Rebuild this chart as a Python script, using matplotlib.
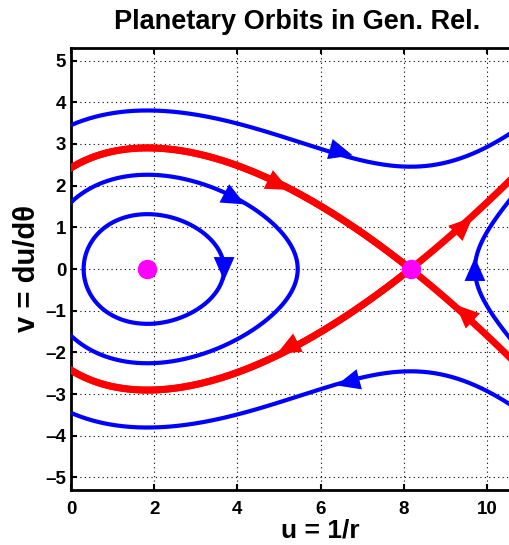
import numpy as np
import matplotlib.pyplot as plt

# u'' = -u + A + B u^2   (relativistic orbit equation, u = 1/r)
A = 1.5
B = 0.1

# starting points (u, v) of the open blue orbits
open_starts = [(0.0, 3.45), (0.0, -3.45), (9.71, 0.0)]
# starting points of the closed orbits around the centre
closed_starts = [(0.0, 1.6), (3.68, 0.0)]

# arrow positions along the blue orbits and along the separatrices
blue_arrows = [(6.5, 2.8), (6.65, -2.72), (3.94, 1.68), (3.68, 0.0), (9.71, 0.0)]
red_arrows = [(5.0, 2.02), (5.2, -1.9), (9.45, 1.05), (9.45, -1.05)]


def field(p):
    u, v = p
    return np.array([v, -u + A + B * u * u])


def step(p, h):
    k1 = field(p)
    k2 = field(p + 0.5 * h * k1)
    k3 = field(p + 0.5 * h * k2)
    k4 = field(p + h * k3)
    return p + h / 6 * (k1 + 2 * k2 + 2 * k3 + k4)


def integrate(p0, t_end, dt=0.005, box=(-2.0, 11.5, -6.0, 6.0)):
    pts = [np.array(p0, float)]
    p = pts[0].copy()
    h = dt if t_end > 0 else -dt
    for _ in range(int(abs(t_end) / dt)):
        p = step(p, h)
        pts.append(p.copy())
        if not (box[0] < p[0] < box[1] and box[2] < p[1] < box[3]):
            break
    return np.array(pts)


def full_curve(p0, t):
    back = integrate(p0, -t)[::-1]
    fwd = integrate(p0, t)
    return np.vstack([back, fwd[1:]])


def loop(p0, centre, dt=0.005):
    # one turn around the centre
    p = np.array(p0, float)
    pts = [p.copy()]
    total, prev = 0.0, np.arctan2(p[1], p[0] - centre)
    while total < 2 * np.pi:
        p = step(p, dt)
        pts.append(p.copy())
        a = np.arctan2(p[1], p[0] - centre)
        total += abs((a - prev + np.pi) % (2 * np.pi) - np.pi)
        prev = a
    return np.array(pts)


# fixed points
disc = np.sqrt(1 - 4 * A * B)
u_center = (1 - disc) / (2 * B)
u_saddle = (1 + disc) / (2 * B)
lam = np.sqrt(2 * B * u_saddle - 1)

fig = plt.figure(figsize=(5.09, 5.45), dpi=100)
plt.rcParams['font.family'] = ['Liberation Sans', 'DejaVu Sans']
ax = fig.add_axes([71 / 509, 55 / 545, 12 * 41.6 / 509, 442 / 545])

blue = '#0000ff'
red = '#ff0000'

for p0 in open_starts:
    c = full_curve(p0, 20)
    ax.plot(c[:, 0], c[:, 1], color=blue, lw=3, zorder=3)

for p0 in closed_starts:
    c = loop(p0, u_center)
    ax.plot(c[:, 0], c[:, 1], color=blue, lw=3, zorder=3)

# separatrices leaving / entering the saddle
eps = 1e-4
for sgn in (1, -1):
    out = integrate((u_saddle + sgn * eps, sgn * eps * lam), 30)
    inn = integrate((u_saddle + sgn * eps, -sgn * eps * lam), -30)
    for c in (out, inn):
        ax.plot(c[:, 0], c[:, 1], color=red, lw=5, zorder=4)


def arrow(p, color):
    # arrow head centred on p, pointing along the flow
    d = field(p)
    d = d / np.hypot(*d)
    tip = (p[0] + 0.28 * d[0], p[1] + 0.28 * d[1])
    tail = (p[0] + 0.22 * d[0], p[1] + 0.22 * d[1])
    ax.annotate('', xy=tip, xytext=tail,
                arrowprops=dict(arrowstyle='-|>,head_length=0.5,head_width=0.22',
                                color=color, lw=0, mutation_scale=34,
                                shrinkA=0, shrinkB=0),
                zorder=6)


for p in blue_arrows:
    arrow(p, blue)
for p in red_arrows:
    arrow(p, red)

ax.plot([u_center, u_saddle], [0, 0], 'o', color='#ff00ff', ms=13, zorder=7)

ax.set_xlim(0, 12)
ax.set_ylim(-5.3, 5.3)
ax.set_xticks(range(0, 11, 2))
ax.set_yticks(range(-5, 6))
ax.set_yticklabels([str(t).replace('-', '\u2013') for t in range(-5, 6)])
ax.grid(True, color='black', linestyle=(0, (1, 3)), linewidth=0.8)
ax.tick_params(direction='in', top=True, right=True, length=4, width=1.5,
               labelsize=13.5)
ax.tick_params(axis='x', pad=8)
for lab in ax.get_xticklabels() + ax.get_yticklabels():
    lab.set_fontweight('bold')
for s in ax.spines.values():
    s.set_linewidth(2)

ax.set_xlabel('u = 1/r', fontsize=19, fontweight='bold', labelpad=0)
ax.set_ylabel('v = du/d\u03b8', fontsize=21, fontweight='bold', labelpad=3)
fig.text(297 / 509, 1 - 22 / 545, 'Planetary Orbits in Gen. Rel.', fontsize=19.5,
         fontweight='bold', ha='center', va='center')

fig.savefig('out.png', dpi=100)
